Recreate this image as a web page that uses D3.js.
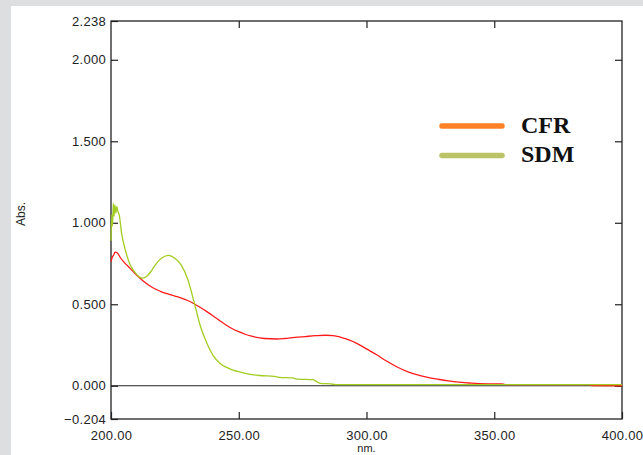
<!DOCTYPE html>
<html>
<head>
<meta charset="utf-8">
<script src="https://cdn.jsdelivr.net/npm/d3@7"></script>
<style>
  body { margin: 0; background: #dcdedf; }
  svg { display: block; }
  .tick text { font-family: Arial, "Liberation Sans", sans-serif; font-size: 13px; fill: #222; letter-spacing: 0.3px; }
  .tick line { stroke: #222; stroke-width: 1.2; }
</style>
</head>
<body>
<svg id="chart"></svg>
<script>
var width = 643, height = 455;
var plot = { left: 111, right: 622, top: 21, bottom: 419 };

// wavelength (nm) / absorbance
var cfrNm  = [200, 200.5, 201, 201.6, 202.5, 203.5, 205, 207.5, 210, 212.5, 215, 217.5, 220, 222.5, 225, 227.5, 230, 232.5, 235, 237.5, 240, 242.5, 245, 247.5, 250, 252.5, 255, 260, 265, 268, 272, 276, 280, 284, 287, 290, 292, 296, 300, 304, 308, 312, 316, 320, 324, 328, 332, 336, 340, 344, 353, 355, 387, 388.5, 400];
var cfrAbs = [0.76, 0.79, 0.80, 0.82, 0.815, 0.79, 0.76, 0.72, 0.68, 0.645, 0.615, 0.592, 0.575, 0.562, 0.55, 0.538, 0.523, 0.503, 0.48, 0.455, 0.428, 0.4, 0.373, 0.35, 0.332, 0.316, 0.304, 0.29, 0.287, 0.29, 0.297, 0.302, 0.307, 0.31, 0.308, 0.297, 0.287, 0.262, 0.226, 0.19, 0.15, 0.115, 0.087, 0.066, 0.051, 0.04, 0.03, 0.022, 0.017, 0.013, 0.011, 0.007, 0.007, 0.001, 0.0];

var sdmNm  = [200, 200.3, 200.6, 200.9, 201.2, 201.5, 201.9, 202.3, 202.7, 203.2, 204.2, 205.5, 207.4, 209.4, 211, 212.5, 214, 215.5, 217.5, 220, 222.5, 225, 227.5, 230, 232.5, 235, 237.5, 240, 242.5, 245, 247.5, 250, 254, 258, 264, 266, 271, 273, 279, 280.5, 282, 286, 288, 400];
var sdmAbs = [0.89, 1.05, 0.98, 1.12, 1.04, 1.11, 1.06, 1.10, 1.07, 1.05, 0.93, 0.84, 0.745, 0.695, 0.668, 0.66, 0.672, 0.698, 0.745, 0.785, 0.80, 0.782, 0.74, 0.655, 0.515, 0.365, 0.262, 0.185, 0.14, 0.114, 0.098, 0.086, 0.071, 0.063, 0.058, 0.051, 0.048, 0.041, 0.037, 0.025, 0.014, 0.011, 0.007, 0.007];

var yTicks = [-0.204, 0, 0.5, 1, 1.5, 2, 2.238];
var xTicks = [200, 250, 300, 350, 400];
var legendNames = ["CFR", "SDM"];
var legendColors = ["#ff8126", "#bcc266"];

var x = d3.scaleLinear().domain([200, 400]).range([plot.left, plot.right]);
var y = d3.scaleLinear().domain([-0.204, 2.238]).range([plot.bottom, plot.top]);

var svg = d3.select("#chart").attr("width", width).attr("height", height);

svg.append("rect").attr("width", width).attr("height", height).attr("fill", "#dcdedf");
svg.append("rect").attr("x", 11).attr("y", 6).attr("width", width - 11).attr("height", height - 6).attr("fill", "#fff");

// axes, ticks point inward
svg.append("g")
    .attr("transform", "translate(" + plot.left + ",0)")
    .call(d3.axisLeft(y).tickValues(yTicks).tickFormat(d3.format(".3f")).tickSizeInner(-7).tickSizeOuter(0).tickPadding(5))
    .call(function(g) { g.select(".domain").remove(); });
svg.append("g")
    .attr("transform", "translate(" + plot.right + ",0)")
    .call(d3.axisRight(y).tickValues(yTicks.slice(1, -1)).tickFormat("").tickSizeInner(-7).tickSizeOuter(0))
    .call(function(g) { g.select(".domain").remove(); });
svg.append("g")
    .attr("transform", "translate(0," + plot.bottom + ")")
    .call(d3.axisBottom(x).tickValues(xTicks).tickFormat(d3.format(".2f")).tickSizeInner(-7).tickSizeOuter(0).tickPadding(12))
    .call(function(g) { g.select(".domain").remove(); });
svg.append("g")
    .attr("transform", "translate(0," + plot.top + ")")
    .call(d3.axisTop(x).tickValues(xTicks.slice(1, -1)).tickFormat("").tickSizeInner(-7).tickSizeOuter(0))
    .call(function(g) { g.select(".domain").remove(); });

// frame + zero line
svg.append("rect")
    .attr("x", plot.left).attr("y", plot.top)
    .attr("width", plot.right - plot.left).attr("height", plot.bottom - plot.top)
    .attr("fill", "none").attr("stroke", "#222").attr("stroke-width", 1.3);
svg.append("line")
    .attr("x1", plot.left).attr("x2", plot.right)
    .attr("y1", y(0)).attr("y2", y(0))
    .attr("stroke", "#222").attr("stroke-width", 1.2);

var line = d3.line()
    .curve(d3.curveMonotoneX)
    .x(function(d) { return x(d[0]); })
    .y(function(d) { return y(d[1]); });

svg.append("path")
    .datum(d3.zip(cfrNm, cfrAbs))
    .attr("d", line)
    .attr("fill", "none").attr("stroke", "#ff1a1a").attr("stroke-width", 1.3);
svg.append("path")
    .datum(d3.zip(sdmNm, sdmAbs))
    .attr("d", line)
    .attr("fill", "none").attr("stroke", "#a2cc22").attr("stroke-width", 1.3);

// axis titles
svg.append("text")
    .attr("x", x(300)).attr("y", 452)
    .attr("text-anchor", "middle")
    .style("font-family", "Arial, 'Liberation Sans', sans-serif").style("font-size", "11px").style("fill", "#222")
    .text("nm.");
svg.append("text")
    .attr("transform", "translate(25,214) rotate(-90)")
    .attr("text-anchor", "middle")
    .style("font-family", "Arial, 'Liberation Sans', sans-serif").style("font-size", "12px").style("fill", "#222")
    .text("Abs.");

// legend
var legend = svg.append("g").selectAll("g")
    .data(legendNames)
    .join("g")
    .attr("transform", function(d, i) { return "translate(0," + (126 + i * 29.5) + ")"; });
legend.append("line")
    .attr("x1", 442).attr("x2", 502)
    .attr("stroke", function(d, i) { return legendColors[i]; })
    .attr("stroke-width", 5.5).attr("stroke-linecap", "round");
legend.append("text")
    .attr("x", 521).attr("y", 6.5)
    .style("font-family", "'Liberation Serif', 'Times New Roman', serif").style("font-weight", "bold").style("font-size", "24px").style("fill", "#111")
    .text(function(d) { return d; });
</script>
</body>
</html>
